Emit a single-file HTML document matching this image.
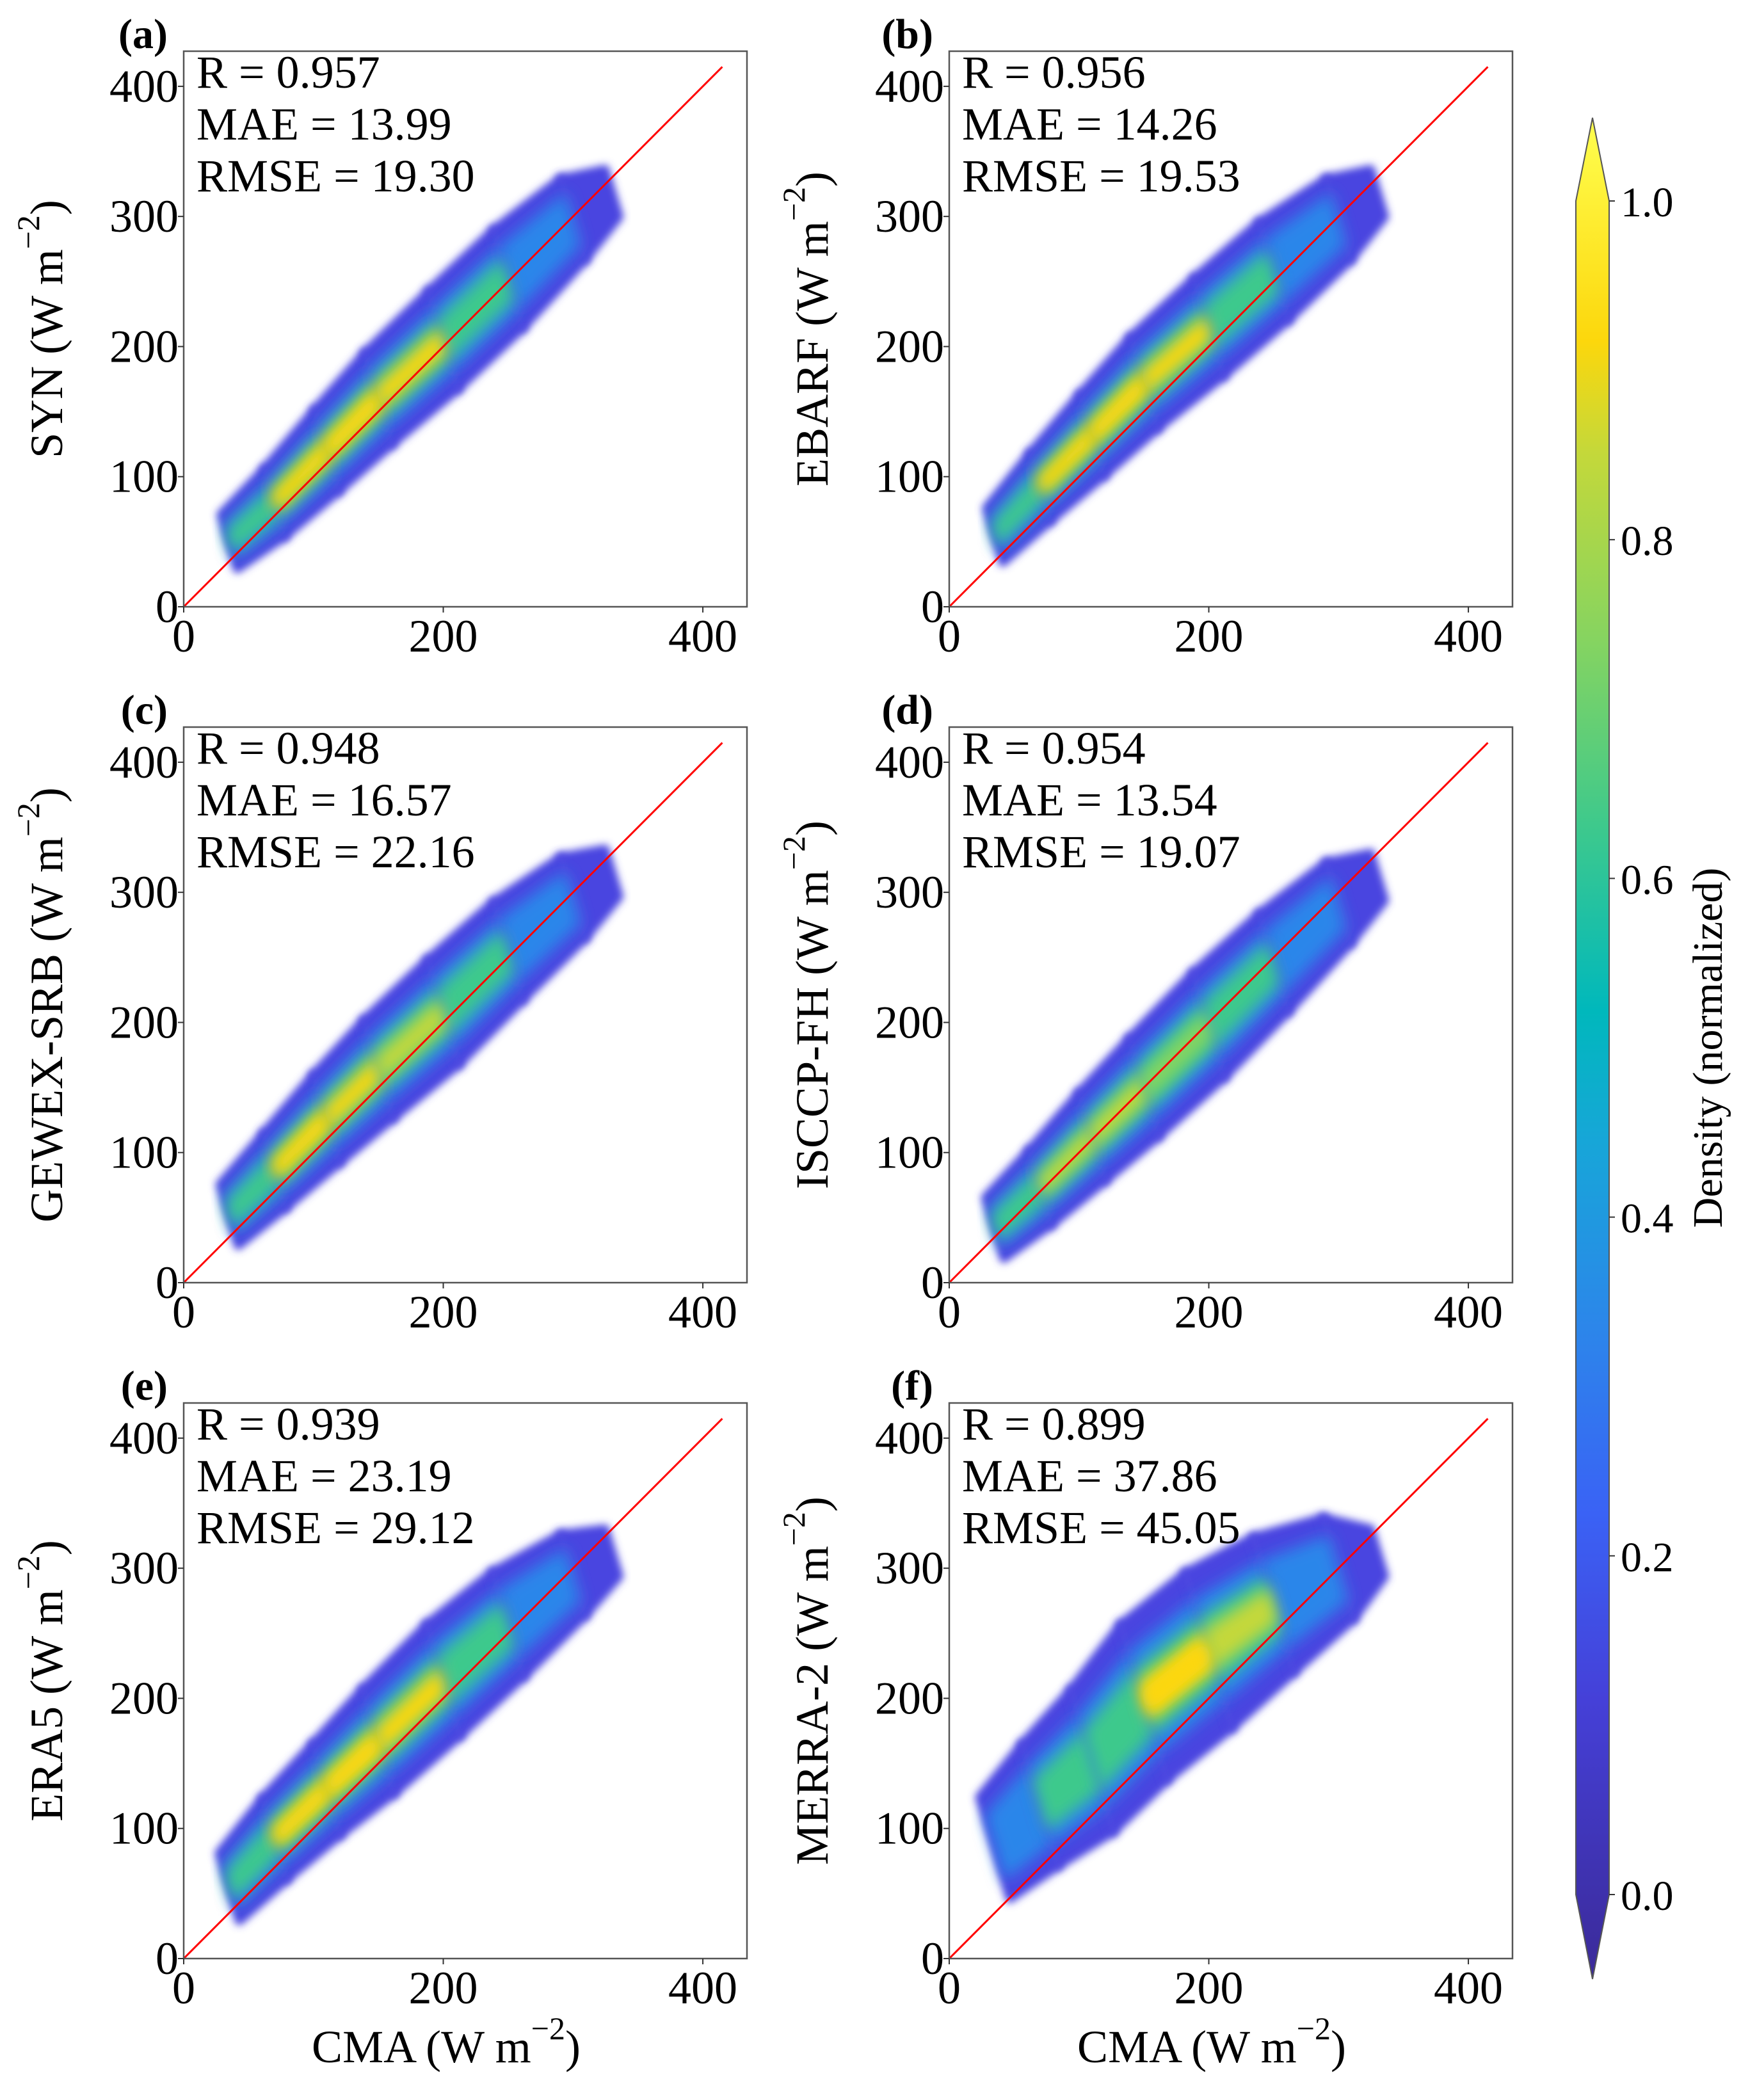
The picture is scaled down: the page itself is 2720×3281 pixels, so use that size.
<!DOCTYPE html>
<html><head><meta charset="utf-8"><style>
body{margin:0;background:#fff}
svg{display:block}
text{font-family:"Liberation Serif","Times New Roman",serif;fill:#000}
</style></head><body>
<svg id="fig" width="2720" height="3281" viewBox="0 0 2720 3281" xmlns="http://www.w3.org/2000/svg" font-family="Liberation Serif, serif">
<defs>
<filter id="blur" x="-20%" y="-20%" width="140%" height="140%"><feGaussianBlur stdDeviation="12"/></filter>
<filter id="blur2" x="-20%" y="-20%" width="140%" height="140%"><feGaussianBlur stdDeviation="6"/></filter>
<linearGradient id="cmap" x1="0" y1="1" x2="0" y2="0">
<stop offset="0" stop-color="#3b2a98"/><stop offset="0.15" stop-color="#4540d8"/><stop offset="0.25" stop-color="#3a62f5"/><stop offset="0.35" stop-color="#2c86ea"/><stop offset="0.45" stop-color="#17a6d8"/><stop offset="0.52" stop-color="#00b8bc"/><stop offset="0.62" stop-color="#3ec98c"/><stop offset="0.72" stop-color="#86d460"/><stop offset="0.82" stop-color="#c4d83a"/><stop offset="0.88" stop-color="#fcd70c"/><stop offset="1" stop-color="#ffff50"/>
</linearGradient>
</defs>
</svg>
<script>
// data arrays
const panelIds=['a','b','c','d','e','f'];
const yNames=['SYN','EBARF','GEWEX-SRB','ISCCP-FH','ERA5','MERRA-2'];
const rVals=['0.957','0.956','0.948','0.954','0.939','0.899'];
const maeVals=['13.99','14.26','16.57','13.54','23.19','37.86'];
const rmseVals=['19.30','19.53','22.16','19.07','29.12','45.05'];
const ticks=[0,200,400];
const yTicks=[0,100,200,300,400];
const cbTicks=['0.0','0.2','0.4','0.6','0.8','1.0'];
// ridge of point cloud: CMA x positions and corresponding product y values, spread, density (0-1)
const ridgeX=[35,70,110,150,200,250,300,330];
const ridgeY=[
 [50,80,120,160,205,252,298,318],
 [55,92,132,172,215,258,298,318],
 [52,86,126,164,208,255,296,315],
 [42,73,112,150,198,246,292,312],
 [55,92,130,167,214,257,295,312],
 [85,118,152,197,237,272,300,312]];
const ridgeW=[
 [16,20,24,27,29,29,24,14],
 [16,20,24,27,29,29,24,14],
 [18,22,26,29,31,29,24,14],
 [18,22,26,29,31,29,24,14],
 [20,24,27,31,33,31,24,14],
 [30,36,42,46,46,40,30,14]];
const ridgeD=[
 [0.6,0.95,1.0,0.95,0.85,0.55,0.3,0.1],
 [0.6,0.95,1.0,0.95,0.85,0.5,0.3,0.1],
 [0.6,0.95,0.95,0.85,0.8,0.5,0.3,0.1],
 [0.5,0.8,0.85,0.85,0.75,0.5,0.3,0.1],
 [0.6,0.95,1.0,0.85,0.95,0.55,0.3,0.1],
 [0.3,0.6,0.7,0.85,1.0,0.65,0.35,0.1]];

const svg=document.getElementById('fig');
const NS='http://www.w3.org/2000/svg';
function el(t,a,p){const e=document.createElementNS(NS,t);for(const k in a)e.setAttribute(k,a[k]);(p||svg).appendChild(e);return e;}
const colL=[287,1483],rowT=[80,1136,2192],PW=880,PH=868;
const XMAX=434,YMAX=427;
const FF='Liberation Serif, serif';
const stops=[[0,'#3b2a98'],[0.15,'#4540d8'],[0.25,'#3a62f5'],[0.35,'#2c86ea'],[0.45,'#17a6d8'],[0.52,'#00b8bc'],[0.62,'#3ec98c'],[0.72,'#86d460'],[0.82,'#c4d83a'],[0.88,'#fcd70c'],[1,'#ffff50']];
function cmap(v){return stops.reduce((b,s)=>s[0]<=v?s:b,stops[0])[1];}

panelIds.forEach((id,i)=>{
 const L=colL[i%2],T=rowT[Math.floor(i/2)];
 const sx=v=>L+v/XMAX*PW, sy=v=>T+PH-v/YMAX*PH;
 const g=el('g',{'font-family':FF});
 
 
 const clip=el('clipPath',{id:'clip'+id},svg.querySelector('defs'));
 el('rect',{x:L,y:T,width:PW,height:PH},clip);
 const cg=el('g',{'clip-path':'url(#clip'+id+')'},g);
 const levels=[[1.0,0.05,'blur2'],[0.65,0.3,'blur'],[0.42,0.55,'blur'],[0.25,0.78,'blur'],[0.13,0.9,'blur']];
 levels.forEach(([wf,thr,f])=>{
  for(let k=0;k<ridgeX.length-1;k++){
   const d=(ridgeD[i][k]+ridgeD[i][k+1])/2;
   if(d<thr && thr>0.05) continue;
   const c=thr<=0.05?'#4a44e0':cmap(Math.min(d,thr+0.1));
   const x0=ridgeX[k],x1=ridgeX[k+1],y0=ridgeY[i][k],y1=ridgeY[i][k+1];
   const w0=ridgeW[i][k]*wf*1.3,w1=ridgeW[i][k+1]*wf*1.3;
   const pts=[[x0-w0*0.3,y0+w0],[x1-w1*0.3,y1+w1],[x1+w1*0.3,y1-w1],[x0+w0*0.3,y0-w0]].map(p=>sx(p[0]).toFixed(1)+','+sy(p[1]).toFixed(1)).join(' ');
   const pg=el('polygon',{points:pts,fill:c,filter:'url(#'+f+')','stroke':c,'stroke-width':thr<=0.05?14:0,'stroke-linejoin':'round'},cg);
   
   
  }
 });
 const ln=el('line',{x1:sx(0),y1:sy(0),x2:sx(415),y2:sy(415),stroke:'#ff0000','stroke-width':3},g);
 
 
 const fr=el('rect',{x:L,y:T,width:PW,height:PH,fill:'none',stroke:'#555','stroke-width':2.5},g);
 
 
 ticks.forEach(t=>{
  el('line',{x1:sx(t),y1:T+PH,x2:sx(t),y2:T+PH+9,stroke:'#333','stroke-width':2},g);
  const tx=el('text',{x:sx(t),y:T+PH+70,'font-size':72,'text-anchor':'middle','font-family':FF},g);tx.textContent=t;
  
  
 });
 yTicks.forEach(t=>{
  el('line',{x1:L-9,y1:sy(t),x2:L,y2:sy(t),stroke:'#333','stroke-width':2},g);
  const ty=el('text',{x:L-8,y:sy(t)+24,'font-size':72,'text-anchor':'end','font-family':FF},g);ty.textContent=t;
  
  
 });
 const lab=el('text',{x:L-25,y:T-5,'font-size':66,'font-weight':'bold','text-anchor':'end','font-family':FF},g);lab.textContent='('+id+')';
 
 
 [['R = ',rVals[i]],['MAE = ',maeVals[i]],['RMSE = ',rmseVals[i]]].forEach((s,j)=>{
  const st=el('text',{x:L+20,y:T+57+j*81,'font-size':72,'font-family':FF},g);st.textContent=s[0]+s[1];
  
  
 });
 const cy=T+PH/2, lx=L-190;
 const yl=el('text',{x:lx,y:cy,'font-size':72,'text-anchor':'middle','font-family':FF,transform:'rotate(-90 '+lx+' '+cy+')'},g);
 yl.innerHTML=yNames[i]+' (W m<tspan dy="-36" font-size="50">−2</tspan><tspan dy="36">)</tspan>';
 
 
 if(i>=4){
  const xl=el('text',{x:L+PW/2-30,y:3222,'font-size':72,'text-anchor':'middle','font-family':FF},g);
  xl.innerHTML='CMA (W m<tspan dy="-36" font-size="50">−2</tspan><tspan dy="36">)</tspan>';
  
  
 }
});
const cbx=2462,cbw=52,cbTop=314,cbBot=2960;
const cb=el('path',{d:`M${cbx},${cbTop} L${cbx+cbw/2},${184} L${cbx+cbw},${cbTop} L${cbx+cbw},${cbBot} L${cbx+cbw/2},${3092} L${cbx},${cbBot} Z`,fill:'url(#cmap)',stroke:'#555','stroke-width':2});


cbTicks.forEach((t,k)=>{
 const y=cbBot-(cbBot-cbTop)*k/(cbTicks.length-1);
 el('line',{x1:cbx+cbw,y1:y,x2:cbx+cbw+9,y2:y,stroke:'#333','stroke-width':2});
 const tt=el('text',{x:cbx+cbw+18,y:y+24,'font-size':66,'font-family':FF});tt.textContent=t;
 
 
});
const cbl=el('text',{x:2690,y:1637,'font-size':66,'text-anchor':'middle','font-family':FF,transform:'rotate(-90 2690 1637)'});
cbl.textContent='Density (normalized)';


</script>
</body></html>
